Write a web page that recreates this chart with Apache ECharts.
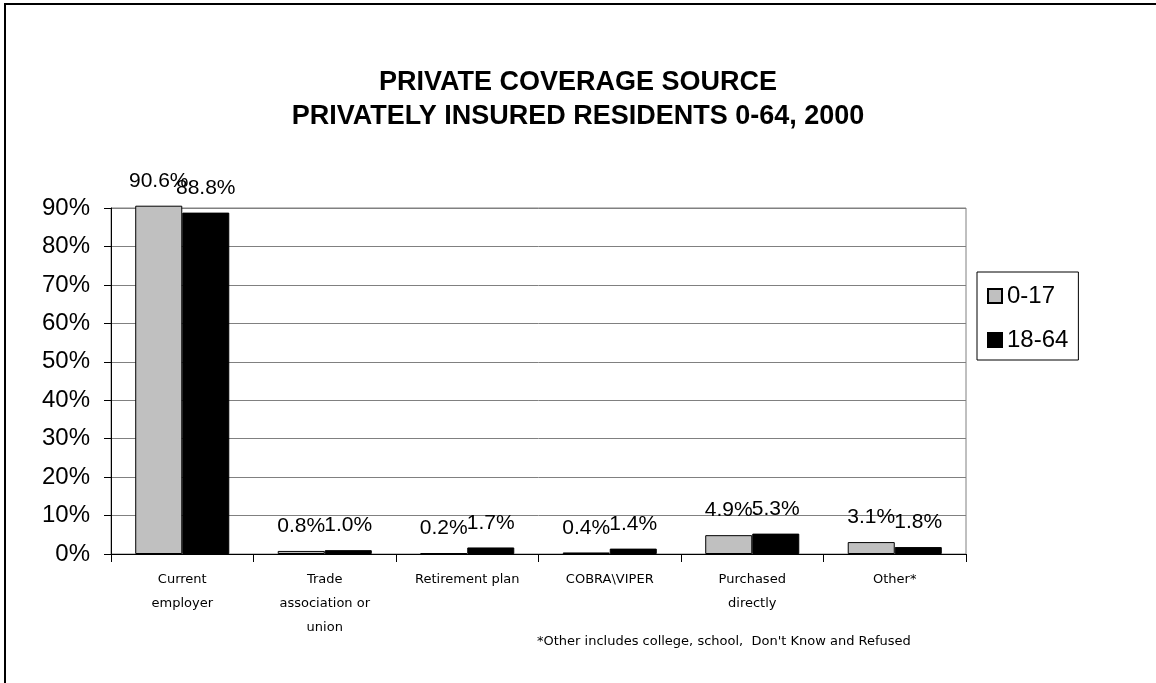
<!DOCTYPE html>
<html>
<head>
<meta charset="utf-8">
<script src="https://cdn.jsdelivr.net/npm/echarts@6/dist/echarts.min.js"></script>
<style>
html,body{margin:0;padding:0;background:#fff;}
#chart{width:1156px;height:683px;}
</style>
</head>
<body>
<div id="chart"></div>
<script>
const categories = ["Current\nemployer", "Trade\nassociation or\nunion", "Retirement plan", "COBRA\\VIPER", "Purchased\ndirectly", "Other*"];
const seriesNames = ["0-17", "18-64"];
const values0to17 = [90.6, 0.8, 0.2, 0.4, 4.9, 3.1];
const values18to64 = [88.8, 1.0, 1.7, 1.4, 5.3, 1.8];
const yTicks = [0, 10, 20, 30, 40, 50, 60, 70, 80, 90];
const titleLines = ["PRIVATE COVERAGE SOURCE", "PRIVATELY INSURED RESIDENTS 0-64, 2000"];
const footnote = "*Other includes college, school,  Don't Know and Refused";

const chart = echarts.init(document.getElementById('chart'), null, {renderer: 'canvas'});
const labelStyle = {
  show: true, position: 'top', distance: 14,
  formatter: p => p.value.toFixed(1) + '%',
  fontFamily: 'Liberation Sans, Arial, sans-serif', fontSize: 21, color: '#000'
};
chart.setOption({
  backgroundColor: '#fff',
  animation: false,
  title: {
    text: titleLines.join('\n'),
    left: 'center', top: 61,
    textStyle: {fontFamily: 'Liberation Sans, Arial, sans-serif', fontWeight: 'bold', fontSize: 27, lineHeight: 34, color: '#000'}
  },
  legend: {
    orient: 'vertical', left: 977, top: 272,
    data: seriesNames,
    icon: 'rect',
    itemWidth: 14, itemHeight: 14, itemGap: 20,
    padding: [12, 10, 8, 10],
    borderColor: '#000', borderWidth: 1,
    textStyle: {fontFamily: 'Liberation Sans, Arial, sans-serif', fontSize: 24, color: '#000'}
  },
  grid: {
    left: 111, top: 208, right: 190, bottom: 129,
    show: true, borderColor: '#808080', borderWidth: 1, backgroundColor: 'transparent'
  },
  xAxis: {
    type: 'category', data: categories,
    axisLine: {lineStyle: {color: '#000', width: 1}},
    axisTick: {show: true, length: 8, lineStyle: {color: '#000'}},
    axisLabel: {
      interval: 0, margin: 14, lineHeight: 24,
      fontFamily: 'DejaVu Sans, sans-serif', fontSize: 13, color: '#000'
    }
  },
  yAxis: {
    type: 'value', min: 0, max: 90, interval: 10,
    axisLine: {show: true, lineStyle: {color: '#000', width: 1}},
    axisTick: {show: true, length: 7, lineStyle: {color: '#000'}},
    axisLabel: {
      formatter: v => yTicks.includes(v) ? v + '%' : '',
      margin: 21, fontFamily: 'Liberation Sans, Arial, sans-serif', fontSize: 24, color: '#000'
    },
    splitLine: {show: true, lineStyle: {color: '#808080', width: 1}}
  },
  series: [
    {
      name: seriesNames[0], type: 'bar', data: values0to17, clip: false,
      barGap: '0%', barCategoryGap: '34%',
      itemStyle: {color: '#c0c0c0', borderColor: '#000', borderWidth: 1},
      label: labelStyle
    },
    {
      name: seriesNames[1], type: 'bar', data: values18to64, clip: false,
      itemStyle: {color: '#000', borderColor: '#000', borderWidth: 1},
      label: labelStyle
    }
  ],
  graphic: [
    {type: 'rect', shape: {x: 5, y: 4, width: 1200, height: 800}, style: {fill: 'none', stroke: '#000', lineWidth: 2}, silent: true},
    {type: 'text', left: 537, top: 635, style: {text: footnote, fontFamily: 'DejaVu Sans, sans-serif', fontSize: 13, fill: '#000'}}
  ]
});
</script>
</body>
</html>
